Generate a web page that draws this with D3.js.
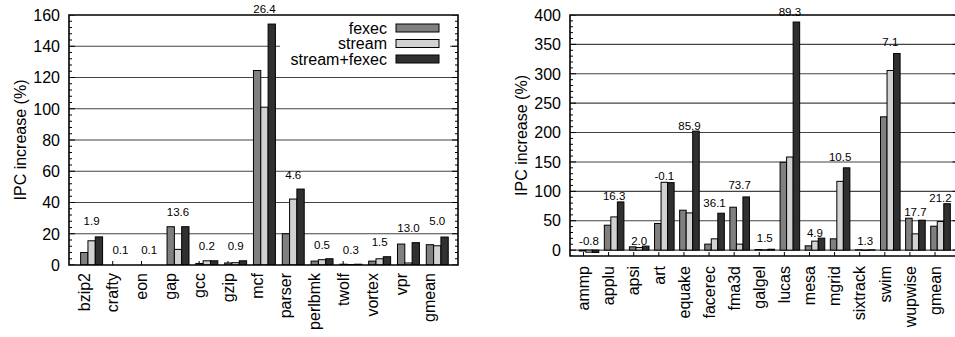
<!DOCTYPE html>
<html>
<head>
<meta charset="utf-8">
<script src="https://cdn.jsdelivr.net/npm/d3@7"></script>
<style>
  html, body { margin: 0; padding: 0; background: #fff; }
  svg { display: block; font-family: "Liberation Sans", Arial, sans-serif; }
</style>
</head>
<body>
<svg id="chart" width="955" height="337"></svg>
<script>
// ---------- data ----------
const seriesNames = ["fexec", "stream", "stream+fexec"];

const intCategories = ["bzip2","crafty","eon","gap","gcc","gzip","mcf","parser","perlbmk","twolf","vortex","vpr","gmean"];
const intFexec  = [8, 0, 0, 24.5, 1, 1.3, 124.5, 20, 2.5, 0.5, 2.5, 13.4, 13];
const intStream = [15.5, 0, 0, 10, 2.7, 1.5, 101, 42.2, 3.4, 0.3, 4, 1.3, 12.3];
const intBoth   = [18, 0, 0, 24.5, 2.7, 2.7, 154.2, 48.6, 4, 0.5, 5.3, 14.3, 17.9];
const intNotes  = ["1.9","0.1","0.1","13.6","0.2","0.9","26.4","4.6","0.5","0.3","1.5","13.0","5.0"];
const intNoteAt = [28, 10, 10, 34, 12.5, 12.5, 164, 58, 13, 10, 15, 23.5, 28];
const intYTicks = [0, 20, 40, 60, 80, 100, 120, 140, 160];

const fpCategories = ["ammp","applu","apsi","art","equake","facerec","fma3d","galgel","lucas","mesa","mgrid","sixtrack","swim","wupwise","gmean"];
const fpFexec  = [-1.5, 42.4, 5.6, 45.3, 67.9, 10.2, 73, 1, 149.4, 7.3, 19.2, 0.5, 226.8, 54.3, 40.7];
const fpStream = [-3.5, 56.5, 4.5, 115.4, 63.3, 19.2, 10.2, 0.5, 158.4, 15.3, 117, -0.5, 305.6, 27.7, 48.6];
const fpBoth   = [-4, 82, 6.8, 114.8, 202.5, 62.8, 90.5, 1.5, 388, 20.4, 140, 0.5, 334.5, 50.9, 79];
const fpNotes  = ["-0.8","16.3","2.0","-0.1","85.9","36.1","73.7","1.5","89.3","4.9","10.5","1.3","7.1","17.7","21.2"];
const fpNoteAt = [16, 92.5, 16.3, 126, 211.5, 80.8, 111, 20.4, 405, 30, 158.7, 16.3, 354, 65.5, 89.3];
const fpYTicks = [0, 50, 100, 150, 200, 250, 300, 350, 400];

const yTitle = "IPC increase (%)";
const colors = ["#808080", "#d2d2d2", "#303030"];

// ---------- drawing ----------
const svg = d3.select("#chart");

function panel(cfg) {
  const g = svg.append("g");
  const n = cfg.categories.length;
  const x = d3.scaleLinear().domain(cfg.xDomain).range([cfg.left, cfg.right]);
  const y = d3.scaleLinear().domain(cfg.yDomain).range([cfg.bottom, cfg.top]);
  const step = x(1) - x(0);
  const bw = step * cfg.barFrac;
  const series = [cfg.fexec, cfg.stream, cfg.both];

  // clip for plot interior
  const clipId = "clip" + cfg.id;
  svg.append("clipPath").attr("id", clipId).append("rect")
    .attr("x", cfg.left).attr("y", cfg.top)
    .attr("width", cfg.right - cfg.left).attr("height", cfg.bottom - cfg.top);

  // gridlines
  g.append("g").attr("clip-path", `url(#${clipId})`)
    .selectAll("line").data(cfg.yTicks.filter(t => y(t) < cfg.bottom - 1 && y(t) > cfg.top + 1))
    .join("line")
    .attr("x1", cfg.left).attr("x2", cfg.right)
    .attr("y1", d => y(d)).attr("y2", d => y(d))
    .attr("stroke", "#444").attr("stroke-width", 1.1);

  // minor ticks (left and right, inward)
  const minor = d3.range(cfg.yDomain[0], cfg.yDomain[1] + 1e-9, cfg.minorStep);
  const tickG = g.append("g").attr("clip-path", `url(#${clipId})`);
  minor.forEach(v => {
    const isMajor = cfg.yTicks.includes(v);
    const len = isMajor ? 6 : 3;
    tickG.append("line").attr("x1", cfg.left).attr("x2", cfg.left + len)
      .attr("y1", y(v)).attr("y2", y(v)).attr("stroke", "#000").attr("stroke-width", 1);
    tickG.append("line").attr("x1", cfg.right).attr("x2", cfg.right - len)
      .attr("y1", y(v)).attr("y2", y(v)).attr("stroke", "#000").attr("stroke-width", 1);
  });

  // x ticks (inward, at label positions)
  tickG.selectAll("line.xt").data(cfg.categories).join("line").attr("class", "xt")
    .attr("x1", (d, i) => x(i) + cfg.labelShift).attr("x2", (d, i) => x(i) + cfg.labelShift)
    .attr("y1", cfg.bottom).attr("y2", cfg.bottom - 4)
    .attr("stroke", "#000").attr("stroke-width", 1);

  // legend box background (drawn before bars)
  if (cfg.legend) {
    g.append("rect").attr("x", 280).attr("y", 18).attr("width", 170).attr("height", 50)
      .attr("fill", "#fff");
  }

  // bars
  const barsG = g.append("g").attr("clip-path", `url(#${clipId})`);
  series.forEach((vals, j) => {
    barsG.selectAll(null).data(vals).join("rect")
      .attr("x", (d, i) => x(i) + (j - 1.5) * bw)
      .attr("y", d => Math.min(y(d), y(0)))
      .attr("width", bw)
      .attr("height", d => Math.abs(y(d) - y(0)))
      .attr("fill", colors[j])
      .attr("stroke", "#000").attr("stroke-width", 1);
  });

  // frame
  g.append("path")
    .attr("d", `M${cfg.left},${cfg.top}H${cfg.right}V${cfg.bottom}H${cfg.left}Z`)
    .attr("fill", "none").attr("stroke", "#000").attr("stroke-width", 1.6);

  // y tick labels
  g.selectAll("text.yt").data(cfg.yTicks).join("text").attr("class", "yt")
    .attr("x", cfg.left - 9).attr("y", d => y(d)).attr("dy", "0.36em")
    .attr("text-anchor", "end").attr("font-size", 16).attr("fill", "#000")
    .text(d => d);

  // y title
  g.append("text")
    .attr("transform", `translate(${cfg.titleX},${(cfg.top + cfg.bottom) / 2}) rotate(-90)`)
    .attr("dy", "0.36em").attr("text-anchor", "middle").attr("font-size", 16)
    .text(yTitle);

  // category labels
  g.selectAll("text.xl").data(cfg.categories).join("text").attr("class", "xl")
    .attr("transform", (d, i) => `translate(${x(i) + cfg.labelShift},${cfg.bottom + cfg.labelGap}) rotate(-90)`)
    .attr("dy", "0.36em").attr("text-anchor", "end").attr("font-size", 16)
    .text(d => d);

  // notes above groups
  g.selectAll("text.note").data(cfg.notes).join("text").attr("class", "note")
    .attr("x", (d, i) => x(i)).attr("y", (d, i) => y(cfg.noteAt[i]))
    .attr("dy", "0.36em").attr("text-anchor", "middle").attr("font-size", 11.5)
    .text(d => d);

  // legend
  if (cfg.legend) {
    seriesNames.forEach((name, j) => {
      const cy = 28 + j * 15.5;
      g.append("text").attr("x", 387).attr("y", cy).attr("dy", "0.36em")
        .attr("text-anchor", "end").attr("font-size", 16).text(name);
      g.append("rect").attr("x", 396).attr("y", cy - 4).attr("width", 43).attr("height", 8)
        .attr("fill", colors[j]).attr("stroke", "#000").attr("stroke-width", 1);
    });
  }
}

panel({
  id: "L", categories: intCategories, fexec: intFexec, stream: intStream, both: intBoth,
  notes: intNotes, noteAt: intNoteAt, yTicks: intYTicks,
  xDomain: [-0.785, 12.72], yDomain: [0, 160], minorStep: 4,
  left: 69, right: 458, top: 15, bottom: 265,
  barFrac: 0.254, labelShift: -7.7, labelGap: 8, titleX: 20, legend: true
});

panel({
  id: "R", categories: fpCategories, fexec: fpFexec, stream: fpStream, both: fpBoth,
  notes: fpNotes, noteAt: fpNoteAt, yTicks: fpYTicks,
  xDomain: [-0.757, 14.72], yDomain: [-10, 400], minorStep: 10,
  left: 570, right: 958.6, top: 15, bottom: 256,
  barFrac: 0.26, labelShift: -5.5, labelGap: 10, titleX: 521.5, legend: false
});
</script>
</body>
</html>
